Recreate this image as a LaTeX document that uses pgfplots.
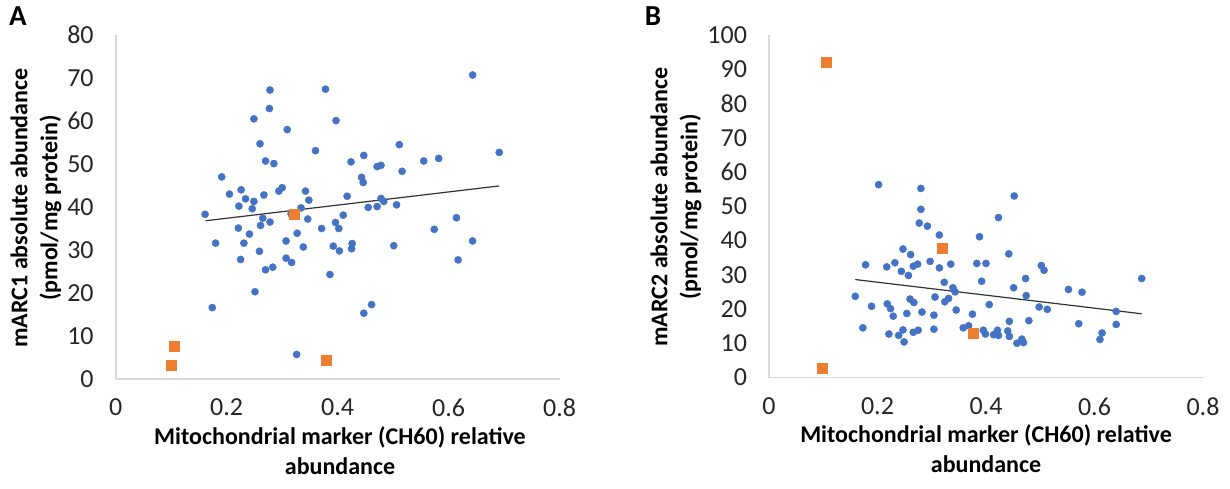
\documentclass[border=0pt]{standalone}
\usepackage{fontspec}
\setmainfont{Carlito}
\usepackage{pgfplots}
\pgfplotsset{compat=1.18}
\definecolor{xlblue}{HTML}{4472C4}
\definecolor{xlorange}{HTML}{ED7D31}
\definecolor{axgray}{HTML}{D9D9D9}
\begin{document}
\begin{tikzpicture}[x=1pt,y=1pt]
\path[use as bounding box] (0,0) rectangle (615,244);
\pgfplotsset{myax/.style={
  scale only axis, axis lines=left,
  axis line style={draw=axgray, line width=0.8pt, -},
  major tick length=0pt, clip=false,
  xmin=0, xmax=0.8, xtick={0,0.2,0.4,0.6,0.8}, xticklabels={0,0.2,0.4,0.6,0.8},
  ticklabel style={font=\fontsize{13}{15}\selectfont, text=black!85},
  xticklabel style={yshift=-6.5pt},
  yticklabel style={xshift=-7.5pt},
  anchor=south west},
  bluem/.style={only marks, mark=*, mark size=1.8pt, mark options={fill=xlblue, draw=xlblue, line width=0.2pt}},
  orm/.style={only marks, mark=square*, mark size=2.5pt, mark options={fill=xlorange, draw=xlorange, line width=0.2pt}},
  trend/.style={no marks, black!80, line width=0.6pt}
}
\begin{axis}[myax, at={(57.85pt,54.5pt)}, width=222pt, height=172pt,
  ymin=0, ymax=80, ytick={0,10,...,80}, yticklabels={0,10,20,30,40,50,60,70,80}]
\addplot[bluem] table {
x y
0.643 70.7
0.278 67.2
0.378 67.4
0.277 62.9
0.249 60.5
0.397 60.1
0.309 58.0
0.260 54.7
0.511 54.5
0.360 53.1
0.691 52.7
0.447 52.0
0.270 50.7
0.424 50.5
0.555 50.7
0.582 51.3
0.285 50.1
0.471 49.4
0.478 49.7
0.516 48.3
0.191 47.0
0.443 46.9
0.446 45.7
0.300 44.5
0.294 43.7
0.226 44.0
0.205 43.0
0.267 42.8
0.342 43.7
0.234 41.9
0.348 41.6
0.417 42.5
0.249 41.3
0.478 42.0
0.483 41.3
0.506 40.5
0.222 40.2
0.246 39.6
0.334 39.8
0.455 39.9
0.471 40.1
0.161 38.3
0.410 38.1
0.614 37.5
0.316 38.4
0.265 37.4
0.278 36.5
0.261 35.7
0.346 37.2
0.396 36.4
0.221 35.1
0.371 35.0
0.402 35.0
0.574 34.8
0.241 33.7
0.327 33.9
0.180 31.6
0.231 31.6
0.307 32.1
0.426 31.5
0.425 30.3
0.392 30.9
0.403 29.8
0.338 30.7
0.501 31.0
0.643 32.1
0.259 29.7
0.225 27.8
0.307 28.1
0.317 27.1
0.270 25.4
0.283 26.0
0.617 27.7
0.386 24.3
0.251 20.3
0.174 16.6
0.461 17.3
0.447 15.3
0.326 5.7
};
\addplot[orm] table {
x y
0.105 7.7
0.100 3.1
0.321 38.4
0.380 4.3
};
\addplot[trend] coordinates {(0.162,36.8) (0.691,44.9)};
\end{axis}
\begin{axis}[myax, at={(384.5pt,55.25pt)}, width=217pt, height=171.25pt,
  ymin=0, ymax=100, ytick={0,10,...,100}, yticklabels={0,10,20,30,40,50,60,70,80,90,100}]
\addplot[bluem] table {
x y
0.202 56.3
0.280 55.2
0.452 53.0
0.280 49.1
0.423 46.7
0.277 45.1
0.292 44.2
0.314 41.6
0.388 41.1
0.247 37.5
0.261 35.9
0.442 36.1
0.178 32.9
0.217 32.3
0.232 33.5
0.266 32.5
0.274 33.1
0.297 33.9
0.314 32.0
0.335 33.1
0.383 33.3
0.400 33.3
0.502 32.7
0.507 31.3
0.244 31.0
0.257 29.8
0.687 28.9
0.473 28.9
0.323 27.8
0.392 28.1
0.339 26.2
0.343 25.0
0.451 26.2
0.552 25.7
0.577 24.9
0.159 23.7
0.306 23.5
0.260 22.9
0.267 21.9
0.324 22.1
0.331 23.1
0.474 23.9
0.189 20.8
0.218 21.5
0.224 20.1
0.229 17.9
0.254 18.7
0.282 19.1
0.304 18.2
0.345 19.7
0.375 18.5
0.406 21.3
0.498 20.6
0.513 19.9
0.640 19.3
0.173 14.5
0.221 12.7
0.239 12.3
0.247 13.9
0.249 10.4
0.266 13.2
0.275 13.8
0.304 14.1
0.358 14.5
0.368 15.1
0.395 13.8
0.399 12.7
0.414 12.5
0.421 13.8
0.423 12.3
0.440 13.6
0.443 12.0
0.443 16.4
0.479 16.6
0.457 10.0
0.466 11.2
0.469 10.2
0.571 15.7
0.614 13.0
0.610 11.1
0.640 15.5
};
\addplot[orm] table {
x y
0.105 92.0
0.098 2.6
0.319 37.8
0.377 13.0
};
\addplot[trend] coordinates {(0.159,28.6) (0.687,18.6)};
\end{axis}
\node[font=\bfseries\fontsize{14.5}{16}\selectfont] at (9,236) {A};
\node[font=\bfseries\fontsize{14.5}{16}\selectfont] at (326.5,236) {B};
\node[font=\bfseries\fontsize{12}{15}\selectfont, rotate=90, align=center] at (18,140) {mARC1 absolute abundance\\(pmol/mg protein)};
\node[font=\bfseries\fontsize{12}{15}\selectfont, rotate=90, align=center] at (338,140.5) {mARC2 absolute abundance\\(pmol/mg protein)};
\node[font=\bfseries\fontsize{12}{15}\selectfont, align=center] at (170,18.5) {Mitochondrial marker (CH60) relative\\abundance};
\node[font=\bfseries\fontsize{12}{15}\selectfont, align=center] at (493,19.5) {Mitochondrial marker (CH60) relative\\abundance};
\end{tikzpicture}
\end{document}
